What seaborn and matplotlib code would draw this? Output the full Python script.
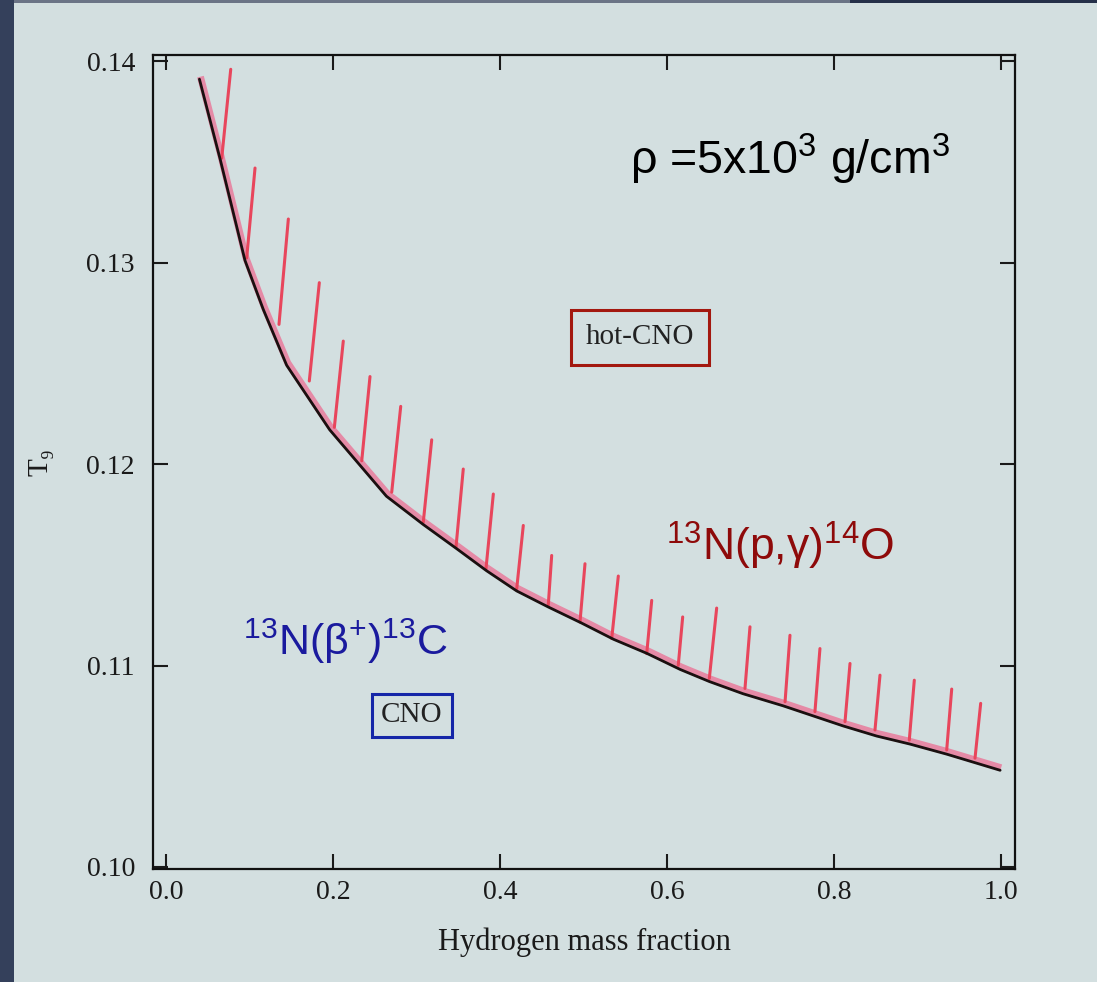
import numpy as np
import pandas as pd
import matplotlib
matplotlib.use("Agg")
import matplotlib.pyplot as plt
import matplotlib.transforms as mtransforms
from matplotlib.patches import Rectangle
import seaborn as sns

# ---- data ----
curve_x = [0.040, 0.065, 0.0946, 0.1165, 0.1445, 0.196, 0.264, 0.308, 0.348, 0.384,
           0.420, 0.458, 0.498, 0.536, 0.576, 0.616, 0.651, 0.691, 0.739, 0.775,
           0.811, 0.851, 0.891, 0.935, 0.999]
curve_T9 = [0.1391, 0.1351, 0.1301, 0.12767, 0.1249, 0.1217, 0.1184, 0.1170, 0.1158, 0.1147,
            0.1137, 0.1129, 0.1121, 0.1113, 0.1106, 0.1098, 0.1092, 0.1086, 0.1080, 0.1075,
            0.1070, 0.1065, 0.1061, 0.1056, 0.1048]

hatch_x0 = [0.0667, 0.0966, 0.1353, 0.1716, 0.2016, 0.2344, 0.2703, 0.3081, 0.3473, 0.3832,
            0.4200, 0.4578, 0.4958, 0.5338, 0.5757, 0.6135, 0.6507, 0.6934, 0.7414, 0.7772,
            0.8132, 0.8491, 0.8902, 0.9350, 0.9689]
hatch_y0 = [0.13518, 0.13023, 0.12693, 0.12412, 0.12182, 0.12016, 0.11860, 0.11711, 0.11588, 0.11480,
            0.11381, 0.11299, 0.11216, 0.11134, 0.11059, 0.11001, 0.10936, 0.10886, 0.10820, 0.10771,
            0.10721, 0.10680, 0.10630, 0.10581, 0.10540]
hatch_x1 = [0.0775, 0.1066, 0.1465, 0.1836, 0.2123, 0.2443, 0.2811, 0.3182, 0.3560, 0.3920,
            0.4279, 0.4619, 0.5018, 0.5417, 0.5817, 0.6188, 0.6595, 0.6994, 0.7473, 0.7832,
            0.8192, 0.8551, 0.8962, 0.9410, 0.9757]
hatch_y1 = [0.13959, 0.13469, 0.13216, 0.12900, 0.12610, 0.12434, 0.12286, 0.12120, 0.11975, 0.11851,
            0.11695, 0.11546, 0.11505, 0.11444, 0.11323, 0.11241, 0.11285, 0.11192, 0.11150, 0.11084,
            0.11010, 0.10952, 0.10927, 0.10883, 0.10812]

x_ticks = [0.0, 0.2, 0.4, 0.6, 0.8, 1.0]
x_tick_labels = ["0.0", "0.2", "0.4", "0.6", "0.8", "1.0"]
y_ticks = [0.10, 0.11, 0.12, 0.13, 0.14]
y_tick_labels = ["0.10", "0.11", "0.12", "0.13", "0.14"]

PAPER = "#d3dfe0"

sns.set_theme(style="ticks")
plt.rcParams["font.family"] = ["Liberation Serif", "DejaVu Serif"]
plt.rcParams["mathtext.fontset"] = "custom"
plt.rcParams["mathtext.rm"] = "Liberation Sans"
plt.rcParams["mathtext.it"] = "Liberation Sans:italic"
plt.rcParams["mathtext.bf"] = "Liberation Sans:bold"
plt.rcParams["mathtext.default"] = "regular"

fig = plt.figure(figsize=(10.97, 9.82), dpi=100, facecolor=PAPER)
W, H = 1097, 982
# dark slide background edges
fig.patches.append(Rectangle((0, 0), 14 / W, 1, transform=fig.transFigure,
                             facecolor="#34405b", edgecolor="none", zorder=0))
fig.patches.append(Rectangle((14 / W, 1 - 3 / H), 836 / W, 3 / H, transform=fig.transFigure,
                             facecolor="#6b7486", edgecolor="none", zorder=0))
fig.patches.append(Rectangle((850 / W, 1 - 3 / H), 247 / W, 3 / H, transform=fig.transFigure,
                             facecolor="#253049", edgecolor="none", zorder=0))

ax = fig.add_axes([153 / W, 1 - 869 / H, (1015 - 153) / W, (869 - 55) / H])
ax.set_facecolor(PAPER)

df = pd.DataFrame({"X": curve_x, "T9": curve_T9})
pink_tr = mtransforms.offset_copy(ax.transData, fig=fig, x=1.0, y=2.5, units="dots")
ax.plot(df["X"], df["T9"], color="#e58aa6", lw=5, transform=pink_tr, solid_capstyle="butt", zorder=2)
sns.lineplot(data=df, x="X", y="T9", ax=ax, color="#1a1010", lw=2.0, sort=False, zorder=3)

for xa, ya, xb, yb in zip(hatch_x0, hatch_y0, hatch_x1, hatch_y1):
    ax.plot([xa, xb], [ya, yb], color="#e8465c", lw=2.2, solid_capstyle="round", zorder=2.5)

ax.set_xlim(-0.0156, 1.0168)
ax.set_ylim(0.0999, 0.14030)
ax.set_xticks(x_ticks)
ax.set_xticklabels(x_tick_labels)
ax.set_yticks(y_ticks)
ax.set_yticklabels(y_tick_labels)
ax.tick_params(direction="in", length=11, width=1.5, top=True, right=True,
               labelsize=20, colors="#1a1a1a")
ax.tick_params(axis="y", pad=13)
ax.tick_params(axis="x", pad=8)
for s in ax.spines.values():
    s.set_visible(True)
    s.set_linewidth(1.6)
    s.set_color("#111111")

ax.set_xlabel("Hydrogen mass fraction", fontsize=22, color="#1a1a1a", labelpad=16)
ax.set_ylabel("T₉", fontsize=21, color="#1a1a1a", labelpad=24)

sans = ["Liberation Sans", "DejaVu Sans"]
ax.text(0.556, 0.13436, r"ρ =5x10$^3$ g/cm$^3$", family=sans, fontsize=33.5, color="black",
        ha="left", va="baseline")
ax.text(0.7353, 0.11520, r"$^{13}$N(p,γ)$^{14}$O", family=sans, fontsize=32, color="#8e0a0a",
        ha="center", va="baseline")
ax.text(0.215, 0.11050, r"$^{13}$N(β$^{+}$)$^{13}$C", family=sans, fontsize=31, color="#1a1a9e",
        ha="center", va="baseline")
ax.text(0.5677, 0.12629, "hot-CNO", fontsize=21, color="#222222", ha="center", va="center",
        bbox=dict(boxstyle="square,pad=0.5", facecolor=PAPER, edgecolor="#a3180f", lw=2.2))
ax.text(0.2946, 0.10752, "CNO", fontsize=21, color="#222222", ha="center", va="center",
        bbox=dict(boxstyle="square,pad=0.3", facecolor=PAPER, edgecolor="#1526a8", lw=2.2))

fig.savefig("out.png", dpi=100, facecolor=fig.get_facecolor())
